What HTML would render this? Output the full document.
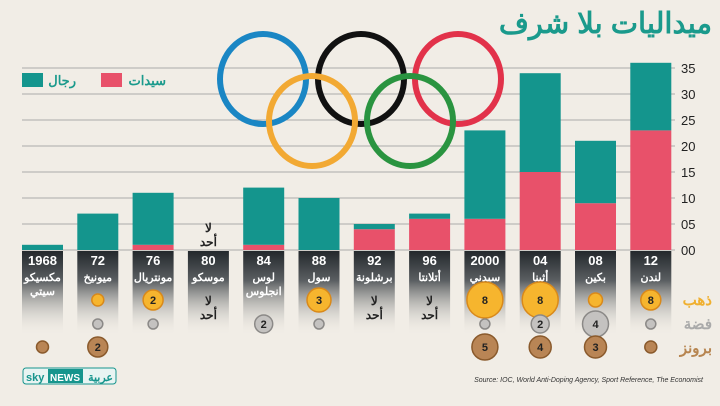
<!DOCTYPE html>
<html><head><meta charset="utf-8"><style>
body{margin:0;width:720px;height:406px;overflow:hidden;background:#f1ede6;font-family:"Liberation Sans","Noto Sans CJK SC",sans-serif}
svg{display:block}
</style></head><body>
<svg width="720" height="406" xmlns="http://www.w3.org/2000/svg" id="chart">
<defs>
<linearGradient id="pg" x1="0" y1="0" x2="0" y2="1">
<stop offset="0" stop-color="#23282c"/><stop offset="0.35" stop-color="#5b5f62"/><stop offset="1" stop-color="#f1ede6" stop-opacity="0"/>
</linearGradient>
</defs>
<rect width="720" height="406" fill="#f1ede6"/>
<text x="712" y="33" text-anchor="end" font-size="29" font-weight="bold" fill="#1a9a8c">ميداليات بلا شرف</text>
<g id="grid"></g>
<g id="rings" fill="none" stroke-width="6">
<ellipse cx="263" cy="79" rx="43" ry="45" stroke="#1a86c4"/>
<ellipse cx="361" cy="79" rx="43" ry="45" stroke="#111"/>
<ellipse cx="458" cy="79" rx="43" ry="45" stroke="#e2324a"/>
<ellipse cx="312" cy="121" rx="43" ry="45" stroke="#f2a933"/>
<ellipse cx="410" cy="121" rx="43" ry="45" stroke="#2a9440"/>
</g>
<g>
<rect x="22" y="73" width="21" height="14" fill="#14958d"/>
<text x="76" y="85" text-anchor="end" font-size="13" font-weight="bold" fill="#1a9a8c">رجال</text>
<rect x="101" y="73" width="21" height="14" fill="#e8516a"/>
<text x="166" y="85" text-anchor="end" font-size="13" font-weight="bold" fill="#1a9a8c">سيدات</text>
</g>
<g id="bars"></g>
<g id="panels"></g>
<g font-size="15" font-weight="bold" text-anchor="end">
<text x="712" y="305" fill="#f0b030">ذهب</text>
<text x="712" y="329" fill="#aaa">فضة</text>
<text x="712" y="353" fill="#b78550">برونز</text>
</g>
<g>
<rect x="23" y="368" width="93" height="16" rx="3" fill="#e8f4f2" stroke="#16958d"/>
<rect x="48" y="369" width="35" height="14" fill="#16958d"/>
<text x="26" y="381" font-size="11" font-weight="bold" fill="#16958d">sky</text>
<text x="50" y="381" font-size="10" font-weight="bold" fill="#fff">NEWS</text>
<text x="113" y="381" text-anchor="end" font-size="11" font-weight="bold" fill="#16958d">عربية</text>
</g>
<text x="703" y="382" text-anchor="end" font-size="7" font-style="italic" fill="#333">Source: IOC, World Anti-Doping Agency, Sport Reference, The Economist</text>
</svg>
<script>
const years=["1968","72","76","80","84","88","92","96","2000","04","08","12"];
const cities=[["مكسيكو","سيتي"],["ميونيخ"],["مونتريال"],["موسكو"],["لوس","انجلوس"],["سول"],["برشلونة"],["أتلانتا"],["سيدني"],["أثينا"],["بكين"],["لندن"]];
const women=[0,0,1,0,1,0,4,6,6,15,9,23];
const men=[1,7,10,0,11,10,1,1,17,19,12,13];
const gold=[null,1,2,"none",null,3,"none","none",8,8,1,8];
const silver=[null,1,1,null,2,1,null,null,1,2,4,1];
const bronze=[1,2,null,null,null,null,null,null,5,4,3,1];
const goldSize=[0,6,10,0,0,12,0,0,18,18,7,10];
const silverSize=[0,5,5,0,9,5,0,0,5,9,13,5];
const bronzeSize=[6,10,0,0,0,0,0,0,13,11,11,6];
const ticks=["00","05","10","15","20","25","30","35"];
const NS="http://www.w3.org/2000/svg";
const y=v=>250-v*5.2;
const x=i=>22+i*55.3;
const bw=41;
function mk(tag,attrs,parent,txt){const e=document.createElementNS(NS,tag);for(const k in attrs)e.setAttribute(k,attrs[k]);if(txt!=null)e.textContent=txt;parent.appendChild(e);return e;}
const grid=document.getElementById('grid');
ticks.forEach((t,i)=>{
 const l=mk('line',{x1:22,x2:675,y1:y(i*5),y2:y(i*5),stroke:'#aaa','stroke-width':1},grid);
 
 
 const tx=mk('text',{x:681,y:y(i*5)+5,'font-size':13,fill:'#222'},grid,t);
 
 
});
const bars=document.getElementById('bars');
const panels=document.getElementById('panels');
function medal(cx,cy,r,fill,stroke,val,g){
 if(!r)return;
 const c=mk('circle',{cx:cx,cy:cy,r:r,fill:fill,stroke:stroke,'stroke-width':1.5},g);
 
 
 if(typeof val==='number'&&val>1){const t=mk('text',{x:cx,y:cy+4,'text-anchor':'middle','font-size':11,'font-weight':'bold',fill:'#222'},g,val);
 
 }
}
years.forEach((yr,i)=>{
 const bx=x(i),cx=bx+bw/2;
 if(women[i]>0){const r=mk('rect',{x:bx,y:y(women[i]),width:bw,height:y(0)-y(women[i]),fill:'#e8516a'},bars);
 
 }
 if(men[i]>0){const r=mk('rect',{x:bx,y:y(women[i]+men[i]),width:bw,height:y(women[i])-y(women[i]+men[i]),fill:'#14958d'},bars);
 
 }
 if(women[i]+men[i]===0){
  const a=mk('text',{x:cx,y:232,'text-anchor':'middle','font-size':12,'font-weight':'bold',fill:'#222'},bars,'لا');
  
  
  const b=mk('text',{x:cx,y:246,'text-anchor':'middle','font-size':12,'font-weight':'bold',fill:'#222'},bars,'أحد');
  
  
 }
 const g=mk('g',{},panels);
 
 
 const p=mk('rect',{x:bx,y:251,width:bw,height:85,fill:'url(#pg)'},g);
 
 
 const t=mk('text',{x:cx,y:265,'text-anchor':'middle','font-size':13,'font-weight':'bold',fill:'#fff'},g,yr);
 
 
 cities[i].forEach((c,j)=>{const ct=mk('text',{x:cx,y:281+j*14,'text-anchor':'middle','font-size':11,'font-weight':'bold',fill:'#fff'},g,c);
 
 });
 if(gold[i]==='none'){
  const a=mk('text',{x:cx,y:305,'text-anchor':'middle','font-size':12,'font-weight':'bold',fill:'#222'},g,'لا');
  
  
  const b=mk('text',{x:cx,y:319,'text-anchor':'middle','font-size':12,'font-weight':'bold',fill:'#222'},g,'أحد');
  
  
 } else medal(cx,300,goldSize[i],'#f6b52e','#d9891a',gold[i],g);
 medal(cx,324,silverSize[i],'#c4c2c0','#8b8987',silver[i],g);
 medal(cx,347,bronzeSize[i],'#b98555','#8a5a2c',bronze[i],g);
});
</script>
</body></html>
